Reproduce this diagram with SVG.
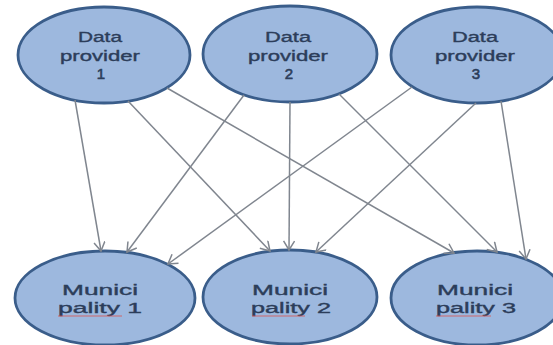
<svg xmlns="http://www.w3.org/2000/svg" width="553" height="345" viewBox="0 0 553 345">
<style>
.node ellipse{fill:#9db8de;stroke:#3a5d8a;stroke-width:2.8}
.node text{font-family:"Liberation Sans",Arial,sans-serif;font-size:14px;fill:#2c3d5a;stroke:#2c3d5a;stroke-width:0.35;text-anchor:middle}
.node text.num{font-size:15px;stroke-width:0.6}
.conn line{stroke:#80868f;stroke-width:1.5;marker-end:url(#arr)}
.spell{stroke:#d9534f;stroke-width:1;opacity:0.8}
</style>
<defs>
<marker id="arr" markerUnits="userSpaceOnUse" markerWidth="14" markerHeight="14" refX="11" refY="6" orient="auto">
<path d="M2,0.5 L11,6 L2,11.5" fill="none" stroke="#80868f" stroke-width="1.5"/>
</marker>
</defs>
<rect width="553" height="345" fill="#ffffff"/>
<g id="provider1" class="node">
<ellipse cx="104" cy="55" rx="86" ry="48"/>
<text x="100" y="42" textLength="44" lengthAdjust="spacingAndGlyphs">Data</text>
<text x="100" y="61" textLength="80" lengthAdjust="spacingAndGlyphs">provider</text>
<text class="num" x="101" y="79">1</text>
</g>
<g id="provider2" class="node">
<ellipse cx="290" cy="54" rx="87" ry="48"/>
<text x="288" y="42" textLength="46" lengthAdjust="spacingAndGlyphs">Data</text>
<text x="288" y="61" textLength="80" lengthAdjust="spacingAndGlyphs">provider</text>
<text class="num" x="289" y="79">2</text>
</g>
<g id="provider3" class="node">
<ellipse cx="477" cy="55" rx="86" ry="48"/>
<text x="475" y="42" textLength="46" lengthAdjust="spacingAndGlyphs">Data</text>
<text x="475" y="61" textLength="80" lengthAdjust="spacingAndGlyphs">provider</text>
<text class="num" x="476" y="79">3</text>
</g>
<g id="municipality1" class="node">
<ellipse cx="105" cy="298" rx="90" ry="47"/>
<text x="100" y="295" textLength="76" lengthAdjust="spacingAndGlyphs">Munici</text>
<text x="100" y="313" textLength="84" lengthAdjust="spacingAndGlyphs">pality 1</text>
<line class="spell" x1="58" y1="316" x2="122" y2="316"/>
</g>
<g id="municipality2" class="node">
<ellipse cx="290" cy="297" rx="87" ry="47"/>
<text x="290" y="295" textLength="76" lengthAdjust="spacingAndGlyphs">Munici</text>
<text x="291" y="313" textLength="80" lengthAdjust="spacingAndGlyphs">pality 2</text>
<line class="spell" x1="252" y1="316" x2="305" y2="316"/>
</g>
<g id="municipality3" class="node">
<ellipse cx="477" cy="298" rx="86" ry="47"/>
<text x="475" y="295" textLength="76" lengthAdjust="spacingAndGlyphs">Munici</text>
<text x="476" y="313" textLength="80" lengthAdjust="spacingAndGlyphs">pality 3</text>
<line class="spell" x1="436" y1="316" x2="491" y2="316"/>
</g>
<g id="connectors" class="conn">
<line x1="75" y1="100" x2="101" y2="251"/>
<line x1="128" y1="101" x2="270" y2="251"/>
<line x1="167" y1="88" x2="454" y2="253"/>
<line x1="244" y1="95" x2="127" y2="252"/>
<line x1="290" y1="102" x2="289" y2="250"/>
<line x1="339" y1="94" x2="497" y2="252"/>
<line x1="412" y1="87" x2="168" y2="264"/>
<line x1="476" y1="103" x2="316" y2="252"/>
<line x1="501" y1="101" x2="526" y2="259"/>
</g>
</svg>
